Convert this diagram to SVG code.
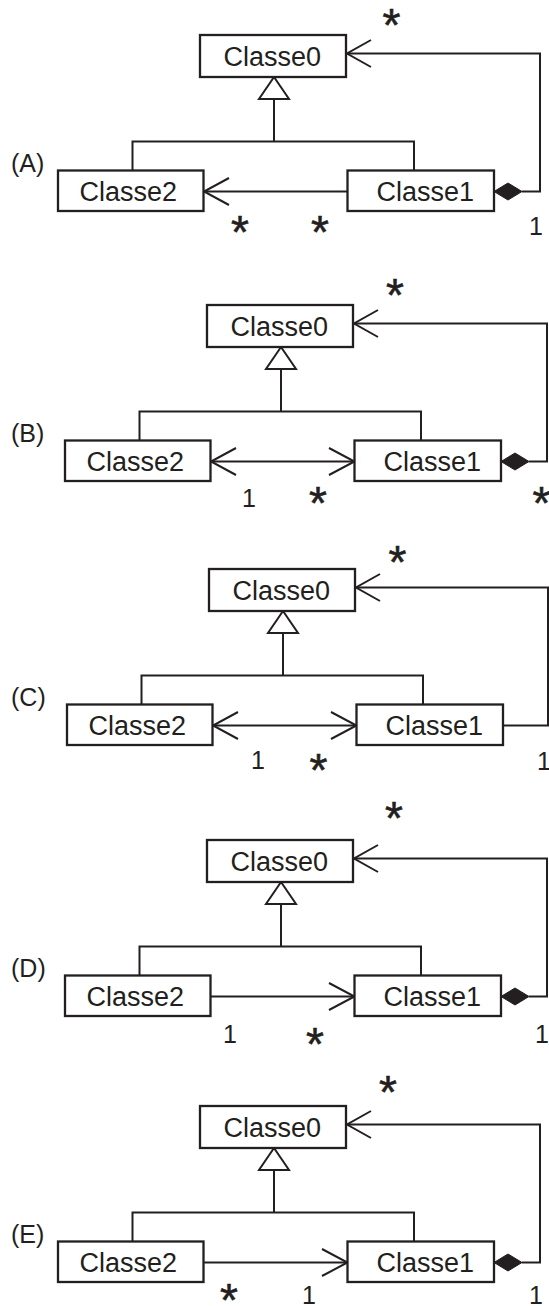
<svg xmlns="http://www.w3.org/2000/svg" width="549" height="1306" viewBox="0 0 549 1306">
<style>
.box{fill:#fff;stroke:#231f20;stroke-width:2.3}
.ln{fill:none;stroke:#231f20;stroke-width:2}
.tri{fill:#fff;stroke:#231f20;stroke-width:2}
.dia{fill:#231f20;stroke:#231f20;stroke-width:1}
text{font-family:"Liberation Sans",Arial,sans-serif;fill:#231f20}
.t{font-size:27px}
.m{font-size:25px;text-anchor:middle}
.s{font-size:46px;text-anchor:middle;stroke:#231f20;stroke-width:0.6}
.lbl{font-size:25px}
</style>
<rect width="549" height="1306" fill="#fff"/>

<!-- (A) -->
<g id="diagA">
  <g id="A-connectors">
    <path class="ln" d="M274,99V141.5M132.5,170.5V141.5H414V170.5"/>
    <polygon class="tri" points="274,77 259,99 289,99"/>
    <path class="ln" d="M347.5,191.5H204"/>
    <path class="ln" d="M229,178L204,191.5L229,205"/>
    <path class="ln" d="M522,191.5H540V53.5H347"/>
    <path class="ln" d="M371,40L347,53.5L371,67"/>
    <polygon class="dia" points="494,191.5 508,183 522,191.5 508,200"/>
  </g>
  <g id="A-Classe0"><rect class="box" x="200" y="35" width="146" height="42"/><text class="t" x="223.6" y="65.5">Classe0</text></g>
  <g id="A-Classe2"><rect class="box" x="58" y="170.5" width="145.5" height="40.5"/><text class="t" x="79.6" y="200.5">Classe2</text></g>
  <g id="A-Classe1"><rect class="box" x="347.5" y="170.5" width="146.5" height="40.5"/><text class="t" x="376.6" y="200.5">Classe1</text></g>
</g>

<!-- (B) -->
<g id="diagB" transform="translate(7,270)">
  <g id="B-connectors">
    <path class="ln" d="M274,99V141.5M132.5,170.5V141.5H414V170.5"/>
    <polygon class="tri" points="274,77 259,99 289,99"/>
    <path class="ln" d="M204,191.5H347.5"/>
    <path class="ln" d="M229,178L204,191.5L229,205"/>
    <path class="ln" d="M322,178L347.5,191.5L322,205"/>
    <path class="ln" d="M522,191.5H540V53.5H347"/>
    <path class="ln" d="M371,40L347,53.5L371,67"/>
    <polygon class="dia" points="494,191.5 508,183 522,191.5 508,200"/>
  </g>
  <g id="B-Classe0"><rect class="box" x="200" y="35" width="146" height="42"/><text class="t" x="223.6" y="65.5">Classe0</text></g>
  <g id="B-Classe2"><rect class="box" x="58" y="170.5" width="145.5" height="40.5"/><text class="t" x="79.6" y="200.5">Classe2</text></g>
  <g id="B-Classe1"><rect class="box" x="347.5" y="170.5" width="146.5" height="40.5"/><text class="t" x="376.6" y="200.5">Classe1</text></g>
</g>

<!-- (C) -->
<g id="diagC" transform="translate(9,534)">
  <g id="C-connectors">
    <path class="ln" d="M274,99V141.5M132.5,170.5V141.5H414V170.5"/>
    <polygon class="tri" points="274,77 259,99 289,99"/>
    <path class="ln" d="M204,191.5H347.5"/>
    <path class="ln" d="M229,178L204,191.5L229,205"/>
    <path class="ln" d="M322,178L347.5,191.5L322,205"/>
    <path class="ln" d="M494,191.5H539V53.5H347"/>
    <path class="ln" d="M371,40L347,53.5L371,67"/>
  </g>
  <g id="C-Classe0"><rect class="box" x="200" y="35" width="146" height="42"/><text class="t" x="223.6" y="65.5">Classe0</text></g>
  <g id="C-Classe2"><rect class="box" x="58" y="170.5" width="145.5" height="40.5"/><text class="t" x="79.6" y="200.5">Classe2</text></g>
  <g id="C-Classe1"><rect class="box" x="347.5" y="170.5" width="146.5" height="40.5"/><text class="t" x="376.6" y="200.5">Classe1</text></g>
</g>

<!-- (D) -->
<g id="diagD" transform="translate(7,805)">
  <g id="D-connectors">
    <path class="ln" d="M274,99V141.5M132.5,170.5V141.5H414V170.5"/>
    <polygon class="tri" points="274,77 259,99 289,99"/>
    <path class="ln" d="M203.5,191.5H347.5"/>
    <path class="ln" d="M322,178L347.5,191.5L322,205"/>
    <path class="ln" d="M522,191.5H540V53.5H347"/>
    <path class="ln" d="M371,40L347,53.5L371,67"/>
    <polygon class="dia" points="494,191.5 508,183 522,191.5 508,200"/>
  </g>
  <g id="D-Classe0"><rect class="box" x="200" y="35" width="146" height="42"/><text class="t" x="223.6" y="65.5">Classe0</text></g>
  <g id="D-Classe2"><rect class="box" x="58" y="170.5" width="145.5" height="40.5"/><text class="t" x="79.6" y="200.5">Classe2</text></g>
  <g id="D-Classe1"><rect class="box" x="347.5" y="170.5" width="146.5" height="40.5"/><text class="t" x="376.6" y="200.5">Classe1</text></g>
</g>

<!-- (E) -->
<g id="diagE" transform="translate(0,1071)">
  <g id="E-connectors">
    <path class="ln" d="M274,99V141.5M132.5,170.5V141.5H414V170.5"/>
    <polygon class="tri" points="274,77 259,99 289,99"/>
    <path class="ln" d="M203.5,191.5H347.5"/>
    <path class="ln" d="M322,178L347.5,191.5L322,205"/>
    <path class="ln" d="M522,191.5H540V53.5H347"/>
    <path class="ln" d="M371,40L347,53.5L371,67"/>
    <polygon class="dia" points="494,191.5 508,183 522,191.5 508,200"/>
  </g>
  <g id="E-Classe0"><rect class="box" x="200" y="35" width="146" height="42"/><text class="t" x="223.6" y="65.5">Classe0</text></g>
  <g id="E-Classe2"><rect class="box" x="58" y="170.5" width="145.5" height="40.5"/><text class="t" x="79.6" y="200.5">Classe2</text></g>
  <g id="E-Classe1"><rect class="box" x="347.5" y="170.5" width="146.5" height="40.5"/><text class="t" x="376.6" y="200.5">Classe1</text></g>
</g>

<!-- labels -->
<g id="labels">
  <text class="lbl" x="11" y="172">(A)</text>
  <text class="s" x="391.5" y="41">*</text>
  <text class="s" x="240" y="248">*</text>
  <text class="s" x="320" y="248">*</text>
  <text class="m" x="536" y="235">1</text>

  <text class="lbl" x="11" y="442">(B)</text>
  <text class="s" x="395" y="311">*</text>
  <text class="m" x="249" y="506.5">1</text>
  <text class="s" x="318" y="518.5">*</text>
  <text class="s" x="541.5" y="518.5">*</text>

  <text class="lbl" x="11" y="706">(C)</text>
  <text class="s" x="397.5" y="578">*</text>
  <text class="m" x="258" y="768.5">1</text>
  <text class="s" x="318.5" y="786">*</text>
  <text class="m" x="544" y="770">1</text>

  <text class="lbl" x="11" y="977">(D)</text>
  <text class="s" x="394" y="834">*</text>
  <text class="m" x="230" y="1043">1</text>
  <text class="s" x="315" y="1060">*</text>
  <text class="m" x="542" y="1043">1</text>

  <text class="lbl" x="11" y="1242.5">(E)</text>
  <text class="s" x="388" y="1108">*</text>
  <text class="s" x="229" y="1315.5">*</text>
  <text class="m" x="309" y="1303.5">1</text>
  <text class="m" x="536" y="1303.5">1</text>
</g>
</svg>
